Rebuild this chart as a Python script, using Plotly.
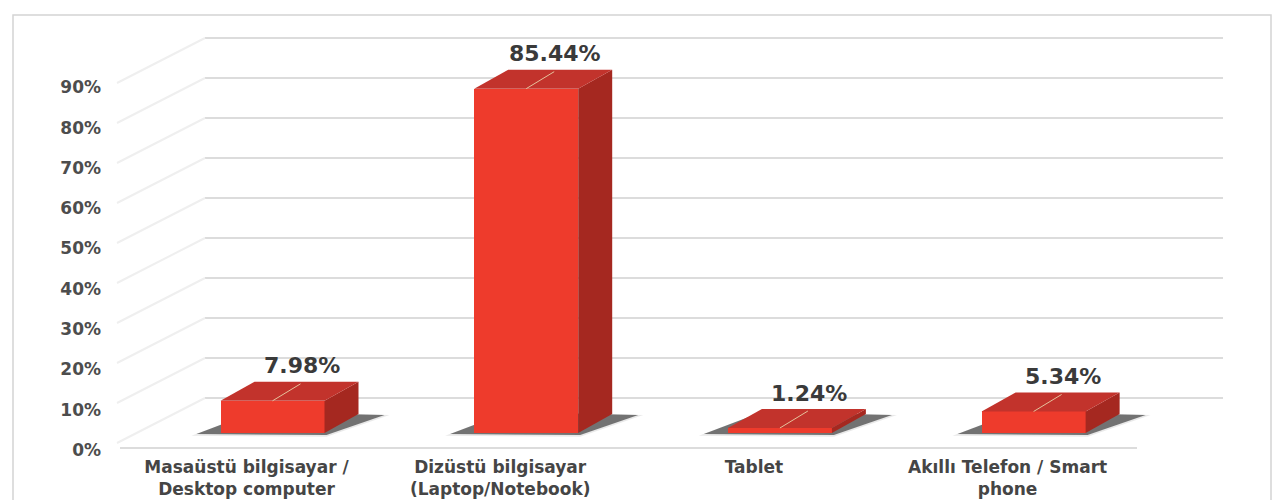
import plotly.graph_objects as go

# Device usage shares (%)
categories = [
    "Masaüstü bilgisayar /<br>Desktop computer",
    "Dizüstü bilgisayar<br>(Laptop/Notebook)",
    "Tablet",
    "Akıllı Telefon / Smart<br>phone",
]
shares = [7.98, 85.44, 1.24, 5.34]
tick_values = [0, 10, 20, 30, 40, 50, 60, 70, 80, 90]
tick_labels = ["0%", "10%", "20%", "30%", "40%", "50%", "60%", "70%", "80%", "90%"]
wall_values = [10, 20, 30, 40, 50, 60, 70, 80, 90, 100]

# ---- figure geometry (pixels) ----
W, H = 1273, 500
PX_CAT = 253.7          # pixels between categories
PX_PCT = 4.03           # pixels per percentage point
X0_PX = 272.5           # pixel position of the first category
Y0_PX = 433.0           # pixel position of 0 %
PLOT_L, PLOT_B = 104, 455

x_lo = -(X0_PX - PLOT_L) / PX_CAT
x_hi = x_lo + (W - PLOT_L) / PX_CAT
y_lo = -(PLOT_B - Y0_PX) / PX_PCT
y_hi = Y0_PX / PX_PCT


def dx(px):
    return px / PX_CAT


def dy(px):
    return px / PX_PCT


BAR_W = dx(104)          # front face width
DEPTH_X = dx(34)         # 3D depth offset
DEPTH_Y = dy(19)

FRONT = "#ee3b2c"
TOP = "#c2332c"
SIDE = "#a52820"
GRID = "#dcdcdc"
TEXT = "#454545"

xs = list(range(len(categories)))

fig = go.Figure()
fig.add_trace(go.Bar(
    x=xs, y=shares, width=BAR_W,
    marker=dict(color=FRONT, line=dict(width=0)),
    hoverinfo="skip", showlegend=False,
))

shapes = []

# back wall grid, left wall diagonals and floor edge
wall_left, wall_right = dx(205 - X0_PX), dx(1223 - X0_PX)
side_left = dx(117 - X0_PX)
for v in wall_values:
    yb = dy(Y0_PX - (438 - 4.0 * v))
    shapes.append(dict(type="line", xref="x", yref="y", layer="below",
                       x0=wall_left, x1=wall_right, y0=yb, y1=yb,
                       line=dict(color=GRID, width=2)))
    shapes.append(dict(type="line", xref="x", yref="y", layer="below",
                       x0=side_left, x1=wall_left, y0=yb - dy(45), y1=yb,
                       line=dict(color="#efefef", width=2)))
floor_y = -dy(15)
shapes.append(dict(type="line", xref="x", yref="y", layer="below",
                   x0=dx(120 - X0_PX), x1=dx(1137 - X0_PX), y0=floor_y, y1=floor_y,
                   line=dict(color=GRID, width=2)))


def poly(points):
    return "M " + " L ".join(f"{px:.4f},{py:.4f}" for px, py in points) + " Z"


for x, v in zip(xs, shares):
    xl, xr = x - BAR_W / 2, x + BAR_W / 2
    # soft floor shadow: a wide faint layer and a tighter dark one
    for grow, alpha in ((5, 0.10), (0, 0.62)):
        shapes.append(dict(
            type="path", xref="x", yref="y", layer="below",
            path=poly([(xl - dx(24 + grow), -dy(1 + grow / 3)),
                       (xr + dx(2), -dy(2 + grow / 3)),
                       (xr + DEPTH_X + dx(26 + grow), DEPTH_Y - dy(1)),
                       (xl + DEPTH_X, DEPTH_Y + dy(2))]),
            fillcolor=f"rgba(40,40,40,{alpha})", line=dict(width=0)))
    # side face
    shapes.append(dict(
        type="path", xref="x", yref="y", layer="above",
        path=poly([(xr, 0), (xr, v), (xr + DEPTH_X, v + DEPTH_Y), (xr + DEPTH_X, DEPTH_Y)]),
        fillcolor=SIDE, line=dict(width=0)))
    # top face
    shapes.append(dict(
        type="path", xref="x", yref="y", layer="above",
        path=poly([(xl, v), (xr, v), (xr + DEPTH_X, v + DEPTH_Y), (xl + DEPTH_X, v + DEPTH_Y)]),
        fillcolor=TOP, line=dict(width=0)))
    # leader line from the value label
    shapes.append(dict(type="line", xref="x", yref="y", layer="above",
                       x0=x + dx(28), y0=v + dy(17), x1=x, y1=v,
                       line=dict(color="#e6c29c", width=1)))

annotations = [
    dict(x=x + dx(29), y=v + dy(35), xref="x", yref="y",
         text=f"{v:.2f}%", showarrow=False,
         font=dict(family="DejaVu Sans", size=22, color="#3a3a3a", weight="bold"))
    for x, v in zip(xs, shares)
]

# outer frame
shapes.append(dict(type="rect", xref="paper", yref="paper", layer="below",
                   x0=13 / W, x1=1271 / W, y0=-0.05, y1=1 - 15 / H,
                   line=dict(color="#d4d4d4", width=1.5)))

fig.update_layout(
    width=W, height=H,
    margin=dict(l=0, r=0, t=0, b=0),
    paper_bgcolor="white", plot_bgcolor="rgba(0,0,0,0)",
    shapes=shapes, annotations=annotations,
    showlegend=False, bargap=0,
    xaxis=dict(
        domain=[PLOT_L / W, 1], range=[x_lo, x_hi], automargin=False,
        tickvals=xs, ticktext=categories,
        showgrid=False, zeroline=False, showline=False, ticks="",
        ticklabelshift=-26, ticklabelstandoff=0,
        tickfont=dict(family="DejaVu Sans", size=17, color=TEXT, weight="bold"),
        fixedrange=True,
    ),
    yaxis=dict(
        domain=[1 - PLOT_B / H, 1], range=[y_lo, y_hi], automargin=False,
        tickvals=tick_values, ticktext=tick_labels,
        showgrid=False, zeroline=False, showline=False, ticks="",
        ticklabelshift=17, ticklabelstandoff=2,
        tickfont=dict(family="DejaVu Sans", size=17, color="#4d4d4d", weight="bold"),
        fixedrange=True,
    ),
)

fig.write_html("out.html")
